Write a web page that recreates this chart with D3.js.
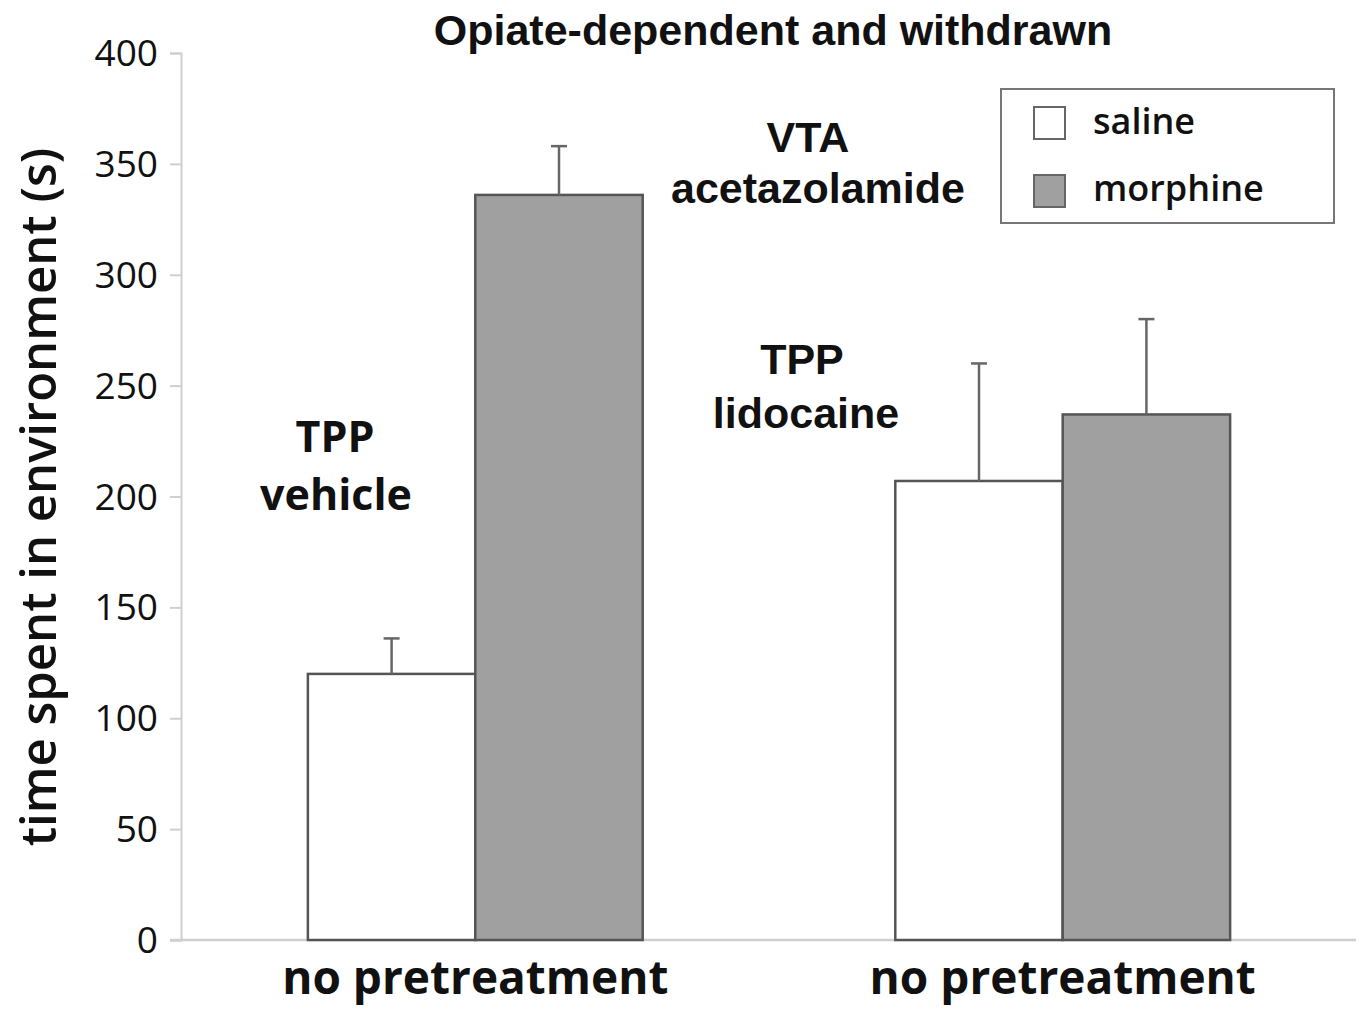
<!DOCTYPE html>
<html><head><meta charset="utf-8">
<script src="https://cdn.jsdelivr.net/npm/d3@7"></script>
<style>body{margin:0;background:#fff}svg{display:block}</style>
</head><body>
<svg id="c" width="1361" height="1009"></svg>
<script>
const groups = ["g1", "g2"];
const groupLabels = ["no pretreatment", "no pretreatment"];
const series = ["saline", "morphine"];
const salineValues = [120, 207];
const salineErrTop = [136, 260];
const morphineValues = [336, 237];
const morphineErrTop = [358, 280];
const yTicks = [0, 50, 100, 150, 200, 250, 300, 350, 400];

const svg = d3.select("#c");
const y = d3.scaleLinear().domain([0, 400]).range([940, 53]);
const x0 = d3.scaleBand().domain(groups).range([181, 1357]).paddingInner(0.43).paddingOuter(0.216);
const x1 = d3.scaleBand().domain(series).range([0, x0.bandwidth()]);
const fills = {saline: "#ffffff", morphine: "#a0a0a0"};

const rows = [];
groups.forEach((g, i) => {
  rows.push({g, s: "saline", v: salineValues[i], e: salineErrTop[i]});
  rows.push({g, s: "morphine", v: morphineValues[i], e: morphineErrTop[i]});
});

// axes
const yAxis = svg.append("g").attr("transform", "translate(181,0)")
  .call(d3.axisLeft(y).tickValues(yTicks).tickSize(11).tickPadding(12));
yAxis.select(".domain").attr("stroke", "#cfcfcf").attr("stroke-width", 2);
yAxis.selectAll(".tick line").attr("stroke", "#cfcfcf").attr("stroke-width", 2);
yAxis.selectAll(".tick text").attr("font-family", "'Open Sans', sans-serif")
  .attr("font-size", 37).attr("fill", "#111").attr("dy", "0.34em");

// x axis line
svg.append("line").attr("x1", 170).attr("x2", 1356).attr("y1", y(0)).attr("y2", y(0))
  .attr("stroke", "#cfcfcf").attr("stroke-width", 2.5);

// bars
svg.append("g").selectAll("rect").data(rows).join("rect")
  .attr("x", d => x0(d.g) + x1(d.s))
  .attr("y", d => y(d.v))
  .attr("width", x1.bandwidth())
  .attr("height", d => y(0) - y(d.v))
  .attr("fill", d => fills[d.s])
  .attr("stroke", "#555").attr("stroke-width", 2.5);

// error bars
const eb = svg.append("g").attr("stroke", "#666").attr("stroke-width", 2.5);
rows.forEach(d => {
  const cx = x0(d.g) + x1(d.s) + x1.bandwidth() / 2;
  eb.append("line").attr("x1", cx).attr("x2", cx).attr("y1", y(d.v)).attr("y2", y(d.e));
  eb.append("line").attr("x1", cx - 8).attr("x2", cx + 8).attr("y1", y(d.e)).attr("y2", y(d.e));
});

// x labels
svg.append("g").selectAll("text").data(groups).join("text")
  .attr("x", d => x0(d) + x0.bandwidth() / 2)
  .attr("y", 994)
  .attr("text-anchor", "middle")
  .attr("font-family", "'Open Sans', sans-serif").attr("font-weight", 700)
  .attr("font-size", 46).attr("fill", "#111")
  .text((d, i) => groupLabels[i]);

// y label
svg.append("text")
  .attr("transform", "translate(56,497) rotate(-90)")
  .attr("text-anchor", "middle")
  .attr("font-family", "'Open Sans', sans-serif").attr("font-weight", 600)
  .attr("font-size", 49).attr("fill", "#111")
  .text("time spent in environment (s)");

// title
svg.append("text").attr("x", 773).attr("y", 45).attr("text-anchor", "middle")
  .attr("font-family", "'Liberation Sans', Arial, sans-serif").attr("font-weight", 700)
  .attr("font-size", 43).attr("fill", "#111")
  .text("Opiate-dependent and withdrawn");

// annotations
const ann = [
  {t: "VTA", x: 808, y: 152, f: "'Liberation Sans', Arial, sans-serif"},
  {t: "acetazolamide", x: 818, y: 203, f: "'Liberation Sans', Arial, sans-serif"},
  {t: "TPP", x: 802, y: 374, f: "'Liberation Sans', Arial, sans-serif"},
  {t: "lidocaine", x: 806, y: 428, f: "'Liberation Sans', Arial, sans-serif"},
  {t: "TPP", x: 335, y: 452, f: "'Open Sans', sans-serif"},
  {t: "vehicle", x: 336, y: 510, f: "'Open Sans', sans-serif"}
];
svg.append("g").selectAll("text").data(ann).join("text")
  .attr("x", d => d.x).attr("y", d => d.y).attr("text-anchor", "middle")
  .attr("font-family", d => d.f).attr("font-weight", 700)
  .attr("font-size", 43).attr("fill", "#111").text(d => d.t);

// legend
const lg = svg.append("g");
lg.append("rect").attr("x", 1001).attr("y", 89).attr("width", 333).attr("height", 134)
  .attr("fill", "#fff").attr("stroke", "#777").attr("stroke-width", 2);
series.forEach((s, i) => {
  lg.append("rect").attr("x", 1034).attr("y", 107 + i * 68).attr("width", 31).attr("height", 32)
    .attr("fill", fills[s]).attr("stroke", "#666").attr("stroke-width", 2);
  lg.append("text").attr("x", 1093).attr("y", 134 + i * 67)
    .attr("font-family", "'Open Sans', sans-serif").attr("font-weight", 600)
    .attr("font-size", 36).attr("fill", "#111").text(s);
});
</script>
</body></html>
